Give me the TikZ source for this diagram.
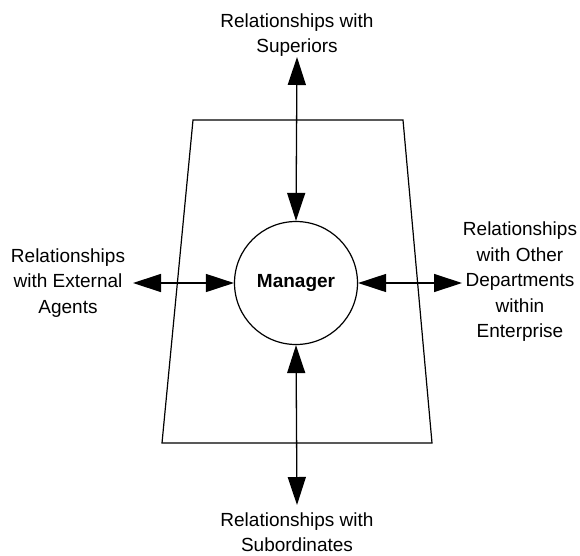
\documentclass[tikz,border=0pt]{standalone}
\usepackage{fontspec}
\setmainfont{Liberation Sans}
\usetikzlibrary{arrows.meta}
\begin{document}
\begin{tikzpicture}[x=1pt,y=-1pt,
  lbl/.style={align=center,font=\fontsize{19}{25.5}\selectfont,inner sep=0pt},
  rel/.style={line width=1.3pt,{Triangle[length=28pt,width=18pt]}-{Triangle[length=28pt,width=18pt]}},
  frame/.style={line width=1.2pt}]
\useasboundingbox (0,0) rectangle (580,555);
\draw[frame] (193,120) -- (403,120) -- (432,443) -- (162,443) -- cycle;
\node[draw,circle,line width=1.2pt,minimum size=123pt,inner sep=0pt,font=\fontsize{19}{23}\selectfont\bfseries] (mgr) at (296,283) {Manager};
\node[lbl] (sup) at (297,35) {Relationships with\\Superiors};
\node[lbl] (sub) at (297,532) {Relationships with\\Subordinates};
\node[lbl] (ext) at (68,283) {Relationships\\with External\\Agents};
\node[lbl] (oth) at (520,282) {Relationships\\with Other\\Departments\\within\\Enterprise};
\coordinate (supend) at (297,57);
\coordinate (subend) at (297,505);
\coordinate (extend) at (133,283);
\coordinate (othend) at (462,283);
\draw[rel] (supend) -- (mgr.north);
\draw[rel] (mgr.south) -- (subend);
\draw[rel] (extend) -- (mgr.west);
\draw[rel] (mgr.east) -- (othend);
\end{tikzpicture}
\end{document}
